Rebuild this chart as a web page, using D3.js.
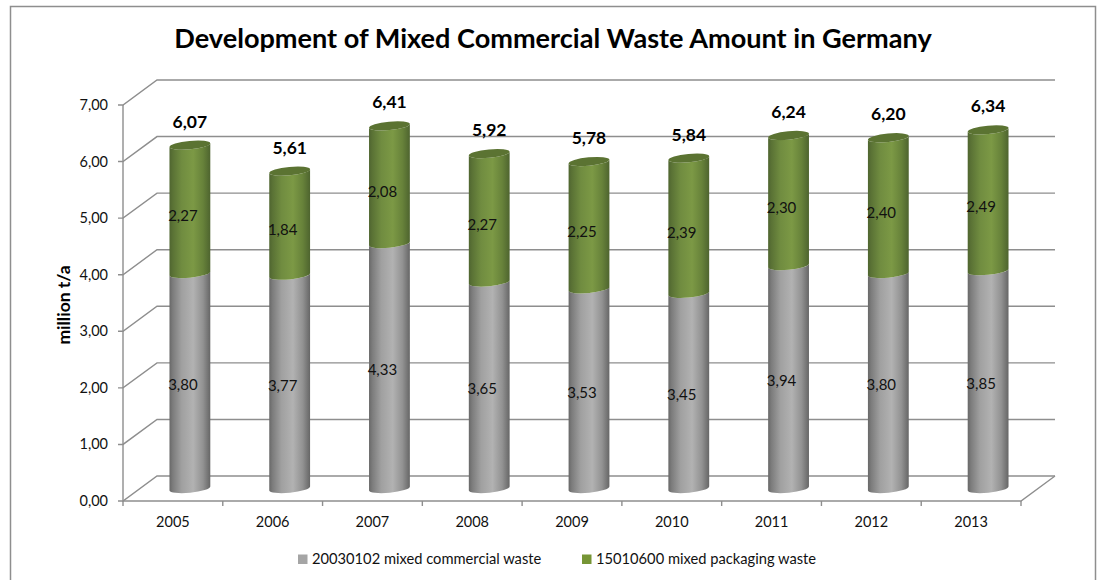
<!DOCTYPE html>
<html>
<head>
<meta charset="utf-8">
<script src="https://cdn.jsdelivr.net/npm/d3@7/dist/d3.min.js"></script>
<style>
html,body{margin:0;padding:0;background:#fff;overflow:hidden}
svg{display:block}
text{font-family:Lato,"Open Sans",sans-serif;fill:#111}
</style>
</head>
<body>
<script>
// Yearly amounts in million t/a
const years = ["2005","2006","2007","2008","2009","2010","2011","2012","2013"];
const commercialWaste = [3.80,3.77,4.33,3.65,3.53,3.45,3.94,3.80,3.85];
const packagingWaste = [2.27,1.84,2.08,2.27,2.25,2.39,2.30,2.40,2.49];
const totals = [6.07,5.61,6.41,5.92,5.78,5.84,6.24,6.20,6.34];
const yTickValues = [0,1,2,3,4,5,6,7];
const seriesNames = ["20030102 mixed commercial waste","15010600 mixed packaging waste"];

const W = 1097, H = 580;
const comma = v => d3.format(".2f")(v).replace(".", ",");
const gridColor = "#8e8e8e";

// Front plane of the 3D plot box; the back wall is shifted by (depthX, depthY)
const x = d3.scaleBand().domain(years).range([123,1021]);
const y = d3.scaleLinear().domain([0,7]).range([501,105]);
const depthX = 34, depthY = -25;

const svg = d3.select("body").append("svg").attr("width",W).attr("height",H);
const defs = svg.append("defs");

function cylinderGradient(id, stops){
  const g = defs.append("linearGradient").attr("id",id).attr("x1","0").attr("x2","1").attr("y1","0").attr("y2","0");
  stops.forEach(([o,c]) => g.append("stop").attr("offset",o).attr("stop-color",c));
}
cylinderGradient("greyBody",[[0,"#686868"],[0.08,"#7c7c7c"],[0.3,"#a0a0a0"],[0.58,"#b2b2b2"],[0.82,"#929292"],[1,"#666666"]]);
cylinderGradient("greenBody",[[0,"#4f6530"],[0.08,"#5a7235"],[0.3,"#708c40"],[0.58,"#7c9945"],[0.82,"#67823a"],[1,"#4e642f"]]);

// Chart frame
svg.append("rect").attr("x",10.5).attr("y",6.5).attr("width",1085).attr("height",590)
  .attr("fill","#fff").attr("stroke","#8e8e8e").attr("stroke-width",1.5);

// Title
svg.append("text").attr("x",553).attr("y",48).attr("text-anchor","middle")
  .attr("font-size",27.1).attr("font-weight",700).style("fill","#000")
  .text("Development of Mixed Commercial Waste Amount in Germany");

// Back wall gridlines with their side-wall connectors
const grid = svg.append("g").attr("fill","none").attr("stroke",gridColor).attr("stroke-width",1.4);
yTickValues.forEach(v => {
  const py = y(v);
  grid.append("path").attr("d",`M${x.range()[0]-5},${py}H${x.range()[0]}L${x.range()[0]+depthX},${py+depthY}H${x.range()[1]+depthX}`);
});
grid.append("path").attr("d",`M${x.range()[0]},${y(7)}V${y(0)}H${x.range()[1]}L${x.range()[1]+depthX},${y(0)+depthY}`);
[...years.map(d => x(d)), x.range()[1]].forEach(px => {
  grid.append("path").attr("d",`M${px},${y(0)}V${y(0)+5}`);
});

// Cylinders stand halfway into the plot box depth
const rx = 20.5, ry = 4.2, tilt = 5.5;
const tiltX = rx*Math.cos(tilt*Math.PI/180), tiltY = rx*Math.sin(tilt*Math.PI/180);
const cx = d => x(d) + x.bandwidth()/2 + depthX/2;
const cy = v => y(v) + depthY/2;

function bodyPath(c, yBottom, yTop){
  return `M${c-tiltX},${yTop+tiltY}` +
    `L${c-tiltX},${yBottom+tiltY}` +
    `A${rx},${ry} ${-tilt} 0 0 ${c+tiltX},${yBottom-tiltY}` +
    `L${c+tiltX},${yTop-tiltY}` +
    `A${rx},${ry} ${-tilt} 0 1 ${c-tiltX},${yTop+tiltY}Z`;
}

const bars = svg.append("g");
years.forEach((d,i) => {
  const c = cx(d);
  const a = commercialWaste[i], b = packagingWaste[i];
  bars.append("path").attr("d",bodyPath(c,cy(0),cy(a))).attr("fill","url(#greyBody)");
  bars.append("path").attr("d",bodyPath(c,cy(a),cy(a+b))).attr("fill","url(#greenBody)");
  bars.append("ellipse").attr("cx",c).attr("cy",cy(a+b)).attr("rx",rx).attr("ry",ry)
    .attr("transform",`rotate(${-tilt} ${c} ${cy(a+b)})`).attr("fill","#5b7332");
});

// Segment values and stack totals
const labels = svg.append("g").attr("text-anchor","middle");
years.forEach((d,i) => {
  const c = cx(d);
  const a = commercialWaste[i], b = packagingWaste[i];
  labels.append("text").attr("x",c-7).attr("y",cy(a/2)+9).attr("font-size",15).text(comma(a));
  labels.append("text").attr("x",c-7).attr("y",cy(a+b/2)+12).attr("font-size",15).text(comma(b));
  labels.append("text").attr("x",c).attr("y",cy(a+b)-17.5).attr("font-size",17.5).attr("font-weight",700).style("fill","#000").text(comma(totals[i]));
});

// Axis labels
svg.append("g").attr("text-anchor","end").selectAll("text").data(yTickValues).join("text")
  .attr("x",108).attr("y",v => y(v)+5).attr("font-size",14.5).text(comma);
svg.append("g").attr("text-anchor","middle").selectAll("text").data(years).join("text")
  .attr("x",d => x(d)+x.bandwidth()/2).attr("y",527).attr("font-size",14.5).text(d => d);
svg.append("text").attr("transform","translate(69.5,305) rotate(-90)").attr("text-anchor","middle")
  .attr("font-size",17.5).attr("font-weight",700).style("fill","#000").text("million t/a");

// Legend
const legendColors = ["#a5a5a5","#769535"];
const legendX = [298,582];
seriesNames.forEach((name,i) => {
  svg.append("rect").attr("x",legendX[i]).attr("y",554.5).attr("width",9.5).attr("height",9.5).attr("fill",legendColors[i]);
  svg.append("text").attr("x",legendX[i]+14).attr("y",564).attr("font-size",14.7).text(name);
});
</script>
</body>
</html>
